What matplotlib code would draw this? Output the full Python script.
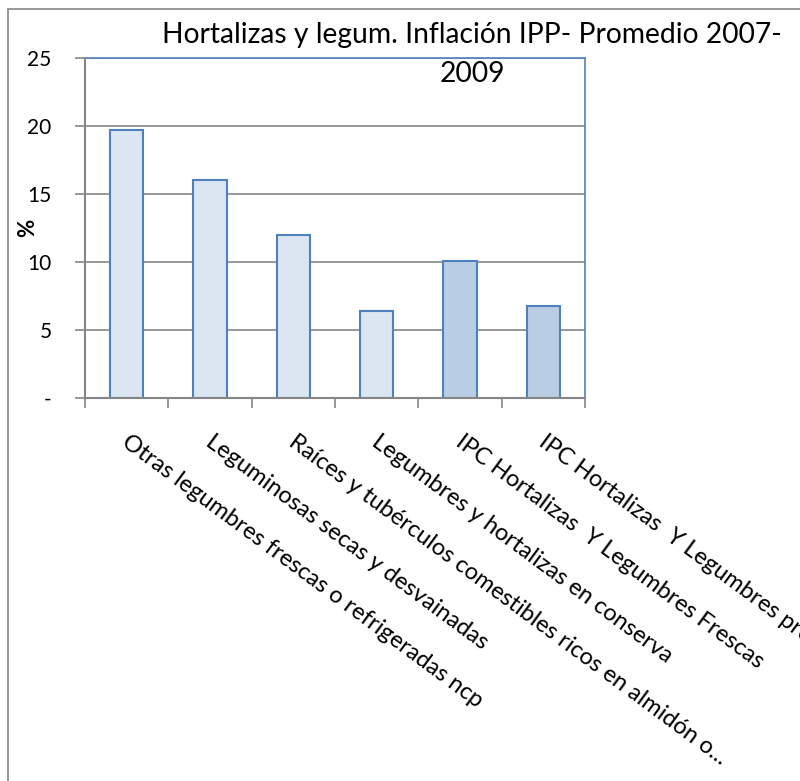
import matplotlib.pyplot as plt
from matplotlib.patches import Rectangle
from matplotlib.transforms import blended_transform_factory

# values (% , promedio 2007-2009)
categorias = [
    "Otras legumbres frescas o refrigeradas ncp",
    "Leguminosas secas y desvainadas",
    "Raíces y tubérculos comestibles ricos en almidón o...",
    "Legumbres y hortalizas en conserva",
    "IPC Hortalizas  Y Legumbres Frescas",
    "IPC Hortalizas  Y Legumbres procesadas",
]
inflacion = [19.7, 16.0, 12.0, 6.4, 10.1, 6.8]
colores = ["#dce6f2", "#dce6f2", "#dce6f2", "#dce6f2", "#b9cde5", "#b9cde5"]
yticks = [0, 5, 10, 15, 20, 25]
ytick_labels = ["-", "5", "10", "15", "20", "25"]

plt.rcParams['font.family'] = ['Lato', 'DejaVu Sans']

fig = plt.figure(figsize=(8, 7.81), dpi=100)
ax = fig.add_axes([85 / 800, 1 - 398 / 781, 500 / 800, 340 / 781])

# outer chart frame
fig.patches.append(Rectangle((8 / 800, -0.1), 1.2, 1 - 9 / 781 + 0.1,
                             transform=fig.transFigure, fill=False,
                             edgecolor="#868686", linewidth=1.2))

x = list(range(len(categorias)))
ax.bar(x, inflacion, width=0.4, color=colores, edgecolor="#4f81bd", linewidth=1.5, zorder=3)

ax.set_xlim(-0.5, len(categorias) - 0.5)
ax.set_ylim(0, 25)
ax.set_yticks(yticks)
ax.set_yticklabels(ytick_labels, fontsize=15)
ax.yaxis.grid(True, color="#868686", linewidth=1.2, zorder=0)
ax.tick_params(axis='y', length=7, width=1.2, color="#868686", pad=17)

# category boundary ticks, labels drawn separately
ax.set_xticks([i - 0.5 for i in range(len(categorias) + 1)])
ax.set_xticklabels([])
ax.tick_params(axis='x', length=7, width=1.2, color="#868686")

for s in ['top', 'right']:
    ax.spines[s].set_color("#4f81bd")
    ax.spines[s].set_linewidth(1.2)
for s in ['left', 'bottom']:
    ax.spines[s].set_color("#868686")
    ax.spines[s].set_linewidth(1.5)
    ax.spines[s].set_zorder(4)

trans = blended_transform_factory(ax.transData, ax.transAxes)
for i, lab in enumerate(categorias):
    ax.text(i - 0.07, -0.137, lab, transform=trans,
            rotation=-36.5, rotation_mode='anchor', ha='left', va='baseline',
            fontsize=17, clip_on=False)

ax.set_ylabel("%", fontsize=16, fontweight='bold')
ax.yaxis.set_label_coords((38 - 85) / 500, 0.5)

fig.text(472 / 800, 1 - 22 / 781, "Hortalizas y legum. Inflación IPP- Promedio 2007-\n2009",
         ha='center', va='top', fontsize=20.3, linespacing=1.6)

fig.savefig("out.png", dpi=100)
